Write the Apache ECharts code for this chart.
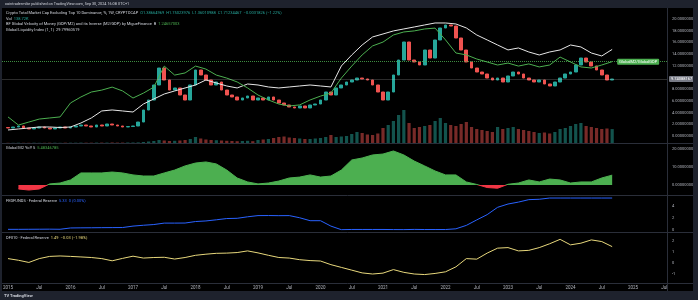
<!DOCTYPE html>
<html><head><meta charset="utf-8">
<script src="https://cdn.jsdelivr.net/npm/echarts@6/dist/echarts.min.js"></script>
<style>html,body{margin:0;padding:0;background:#000;}#c{width:698px;height:300px;}</style>
</head><body><div id="c"></div>
<script>
// ---------- DATA ----------
const months = [
'2015-01','2015-02','2015-03','2015-04','2015-05','2015-06','2015-07','2015-08','2015-09','2015-10','2015-11','2015-12',
'2016-01','2016-02','2016-03','2016-04','2016-05','2016-06','2016-07','2016-08','2016-09','2016-10','2016-11','2016-12',
'2017-01','2017-02','2017-03','2017-04','2017-05','2017-06','2017-07','2017-08','2017-09','2017-10','2017-11','2017-12',
'2018-01','2018-02','2018-03','2018-04','2018-05','2018-06','2018-07','2018-08','2018-09','2018-10','2018-11','2018-12',
'2019-01','2019-02','2019-03','2019-04','2019-05','2019-06','2019-07','2019-08','2019-09','2019-10','2019-11','2019-12',
'2020-01','2020-02','2020-03','2020-04','2020-05','2020-06','2020-07','2020-08','2020-09','2020-10','2020-11','2020-12',
'2021-01','2021-02','2021-03','2021-04','2021-05','2021-06','2021-07','2021-08','2021-09','2021-10','2021-11','2021-12',
'2022-01','2022-02','2022-03','2022-04','2022-05','2022-06','2022-07','2022-08','2022-09','2022-10','2022-11','2022-12',
'2023-01','2023-02','2023-03','2023-04','2023-05','2023-06','2023-07','2023-08','2023-09','2023-10','2023-11','2023-12',
'2024-01','2024-02','2024-03','2024-04','2024-05','2024-06','2024-07','2024-08','2024-09'];
const candleOpen0 = 1.45;
const candleClose = [
1.37,1.54,1.71,1.37,1.20,1.37,1.54,1.37,1.20,1.37,1.54,1.37,
1.54,1.71,1.88,1.71,1.54,1.88,1.71,2.05,1.88,1.71,1.54,1.62,
1.71,2.39,4.44,6.15,8.72,11.62,9.57,7.86,8.21,7.01,6.15,8.72,
11.28,10.43,9.57,8.72,9.23,7.86,7.01,6.67,6.15,6.50,6.84,6.15,
6.50,6.15,6.67,6.15,5.64,5.30,4.96,4.79,5.13,4.79,5.30,5.47,
6.15,7.52,7.01,8.21,8.72,9.23,9.57,9.91,9.75,9.57,8.72,7.52,
6.15,7.52,10.43,12.99,16.07,12.99,12.65,12.14,14.70,13.33,16.41,18.46,
18.97,18.80,16.75,14.70,12.65,11.62,10.94,10.60,9.91,9.57,9.91,9.23,
10.26,10.94,10.60,9.91,9.57,9.23,9.57,8.89,8.55,9.23,9.91,10.60,
10.94,12.14,13.33,12.65,11.97,11.28,10.43,9.57,9.74];
const volumeK = [
2,2,3,2,2,3,2,2,3,3,2,3,
3,3,4,3,3,4,4,4,5,4,4,5,
5,6,10,15,20,30,25,20,22,25,30,40,
60,45,35,30,28,25,22,20,18,20,22,18,
30,35,40,50,60,65,55,50,45,40,40,45,
50,60,80,60,65,70,90,110,100,85,80,95,
150,180,220,280,330,200,150,160,170,180,220,250,
200,180,170,190,210,160,140,130,120,110,160,140,
150,160,140,130,120,110,100,105,95,110,140,150,
170,190,200,170,160,150,140,145,139];

const bimonths = [
'2015-01','2015-03','2015-05','2015-07','2015-09','2015-11',
'2016-01','2016-03','2016-05','2016-07','2016-09','2016-11',
'2017-01','2017-03','2017-05','2017-07','2017-09','2017-11',
'2018-01','2018-03','2018-05','2018-07','2018-09','2018-11',
'2019-01','2019-03','2019-05','2019-07','2019-09','2019-11',
'2020-01','2020-03','2020-05','2020-07','2020-09','2020-11',
'2021-01','2021-03','2021-05','2021-07','2021-09','2021-11',
'2022-01','2022-03','2022-05','2022-07','2022-09','2022-11',
'2023-01','2023-03','2023-05','2023-07','2023-09','2023-11',
'2024-01','2024-03','2024-05','2024-07','2024-09'];
const liquidity = [
16.03,16.20,16.37,16.54,16.54,16.45,
16.54,17.22,18.08,19.28,19.45,19.28,
19.10,20.47,21.33,22.18,22.70,23.21,
23.72,24.58,24.06,23.55,23.21,23.89,
23.72,23.38,23.21,23.38,23.55,23.72,
23.55,23.38,26.97,28.85,30.56,31.93,
32.44,32.96,33.30,33.64,33.98,34.32,
34.32,34.15,33.47,32.27,31.42,30.56,
29.71,30.05,29.36,28.85,29.36,29.71,
30.56,30.22,29.19,28.68,29.80];
const velocity = [
0.989,0.951,0.965,0.979,0.984,0.989,
1.054,1.082,1.105,1.114,1.128,1.110,
1.077,1.100,1.128,1.226,1.184,1.194,
1.226,1.212,1.184,1.170,1.152,1.124,
1.091,1.068,1.049,1.040,1.045,1.068,
1.086,1.100,1.170,1.226,1.278,1.320,
1.338,1.371,1.385,1.390,1.399,1.403,
1.348,1.287,1.278,1.259,1.245,1.231,
1.240,1.226,1.236,1.222,1.231,1.268,
1.245,1.222,1.217,1.231,1.2466];
const m2yoy = [
null,-2.2,-2.8,-2.2,0.6,1.1,
2.8,6.7,6.7,6.7,7.2,6.7,
5.6,5.0,5.0,6.7,8.3,10.6,
12.2,12.8,11.7,8.3,3.9,1.7,
0.6,1.1,2.2,3.9,4.4,5.6,
4.4,5.0,8.3,13.9,15.0,16.7,
17.2,18.9,16.7,13.3,10.6,7.8,
5.6,5.6,1.7,0.3,-1.4,-1.8,
0.4,1.1,2.8,1.7,3.3,2.8,
1.1,1.7,1.7,3.9,5.48];
const fedfunds = [
0.11,0.11,0.12,0.13,0.14,0.12,
0.34,0.36,0.37,0.39,0.40,0.41,
0.65,0.79,0.91,1.15,1.15,1.16,
1.41,1.51,1.70,1.91,1.95,2.20,
2.40,2.41,2.39,2.40,2.04,1.55,
1.55,0.65,0.05,0.09,0.09,0.09,
0.09,0.07,0.06,0.10,0.08,0.08,
0.08,0.20,0.77,1.68,2.56,3.78,
4.33,4.65,5.06,5.12,5.33,5.33,
5.33,5.33,5.33,5.33,5.33];
const dfii10 = [
0.40,0.25,0.05,0.40,0.60,0.64,
0.60,0.55,0.50,0.40,0.20,0.42,
0.62,0.45,0.50,0.52,0.36,0.50,
0.70,0.80,0.88,0.90,0.95,1.10,
0.92,0.70,0.50,0.45,0.30,0.22,
0.18,-0.15,-0.40,-0.65,-0.90,-1.00,
-0.92,-0.60,-0.85,-1.00,-1.05,-0.95,
-0.80,-0.35,0.40,0.35,0.90,1.35,
1.40,1.10,1.15,1.40,1.75,2.15,
1.65,1.80,2.10,1.95,1.49];

// ---------- BUILD ----------
const toYear = s => Number(s.slice(0,4)) + (Number(s.slice(5,7)) - 1) / 12;
const XMIN = 2014.904, XMAX = 2025.56;
const UP = '#26a69a', DN = '#ef5350';
const candleData = candleClose.map((c, i) => {
  const o = i ? candleClose[i-1] : candleOpen0;
  return [toYear(months[i]), o, c, Math.min(o, c), Math.max(o, c)];
});
const volData = volumeK.map((v, i) => ({
  value: [toYear(months[i]), v],
  itemStyle: { color: candleData[i][2] >= candleData[i][1] ? 'rgba(38,166,154,0.5)' : 'rgba(239,83,80,0.5)' }
}));
const pairs = arr => bimonths.map((d, i) => [toYear(d), arr[i]]).filter(p => p[1] !== null);
const lastX = toYear(bimonths[bimonths.length - 1]);

const FONT = 'Roboto, "Noto Sans", sans-serif';
const AX = '#b2b5be';
const grids = [
  { top: 7.3, height: 128.7 },
  { top: 103, height: 40 },
  { top: 149, height: 54 },
  { top: 194, height: 36 },
  { top: 230, height: 55 }
].map(g => Object.assign({ left: 2, right: 30, containLabel: false, outerBoundsMode: 'none', show: false }, g));

const xAxes = grids.map((g, i) => ({
  type: 'value', gridIndex: i, min: XMIN, max: XMAX, splitNumber: 21,
  axisLine: { show: false }, axisTick: { show: false }, splitLine: { show: false },
  axisLabel: i === 4 ? {
    show: true, color: AX, fontSize: 4.5, fontFamily: FONT, margin: 0,
    formatter: v => { const r = Math.round(v * 2) / 2; if (Math.abs(v - r) > 1e-6) return ''; return r % 1 === 0 ? String(r) : 'Jul'; }
  } : { show: false }
}));
const yLab = (fmt, extra) => Object.assign({ show: true, color: AX, fontSize: 4, fontFamily: FONT, margin: 4, formatter: fmt }, extra || {});
const yBase = { type: 'value', position: 'right', axisLine: { show: false }, axisTick: { show: false }, splitLine: { show: false } };
const yAxes = [
  Object.assign({}, yBase, { gridIndex: 0, min: 0, max: 22, interval: 2, axisLabel: yLab(v => v.toFixed(8), { showMaxLabel: false }) }),
  Object.assign({}, yBase, { gridIndex: 0, min: 15, max: 37, show: false }),
  Object.assign({}, yBase, { gridIndex: 0, min: 0.9, max: 1.5, show: false }),
  Object.assign({}, yBase, { gridIndex: 1, min: 0, max: 400, show: false }),
  Object.assign({}, yBase, { gridIndex: 2, min: -10, max: 20, interval: 10, axisLabel: yLab(v => v.toFixed(8), { showMinLabel: false }) }),
  Object.assign({}, yBase, { gridIndex: 3, min: 0, max: 6, interval: 2, axisLabel: yLab(v => String(v), { showMaxLabel: false }) }),
  Object.assign({}, yBase, { gridIndex: 4, min: -2, max: 3, interval: 1, axisLabel: yLab(v => String(v), { showMaxLabel: false, showMinLabel: false }) })
];

const boxLabel = (text, pos, bg, fg) => ({ show: true, position: pos, formatter: text, backgroundColor: bg, color: fg, fontSize: 4, fontFamily: FONT, padding: [1, 2], borderRadius: 1, distance: 1 });

const series = [
  { type: 'candlestick', name: 'OTHERS', xAxisIndex: 0, yAxisIndex: 0, data: candleData, encode: { x: 0, y: [1, 2, 3, 4] },
    barWidth: 3.2, z: 2,
    itemStyle: { color: UP, color0: DN, borderColor: UP, borderColor0: DN, borderWidth: 1 },
    markLine: { silent: true, symbol: 'none', animation: false, data: [
      { yAxis: 9.74, lineStyle: { color: 'rgba(200,200,200,0.22)', type: 'solid', width: 1 }, label: boxLabel('9.74088167', 'end', '#787b86', '#ffffff') },
      { yAxis: 9.74, lineStyle: { opacity: 0 }, label: boxLabel('OTHERS.D', 'insideEnd', '#787b86', '#ffffff') }
    ] } },
  { type: 'line', name: 'Liquidity', xAxisIndex: 0, yAxisIndex: 1, data: pairs(liquidity), showSymbol: false, z: 3,
    lineStyle: { color: '#e6e6e6', width: 1 } },
  { type: 'line', name: 'Velocity', xAxisIndex: 0, yAxisIndex: 2, data: pairs(velocity), showSymbol: false, z: 3,
    lineStyle: { color: '#4caf50', width: 1 },
    markLine: { silent: true, symbol: 'none', animation: false, data: [
      { yAxis: 1.2466, lineStyle: { color: '#4caf50', type: 'dotted', width: 1, opacity: 0.8 }, label: { show: false } }
    ] },
    markPoint: { silent: true, animation: false, symbol: 'circle', symbolSize: 0.01, data: [
      { coord: [lastX, 1.2466], label: Object.assign(boxLabel('GlobalM2/GlobalGDP', 'right', '#4caf50', '#ffffff'), { distance: 5 }) }
    ] } },
  { type: 'bar', name: 'Vol', xAxisIndex: 1, yAxisIndex: 3, data: volData, barWidth: 3.2, z: 1 },
  { type: 'line', name: 'M2', xAxisIndex: 2, yAxisIndex: 4, data: pairs(m2yoy), showSymbol: false,
    lineStyle: { width: 1 }, areaStyle: { opacity: 1 } },
  { type: 'line', name: 'FEDFUNDS', xAxisIndex: 3, yAxisIndex: 5, data: pairs(fedfunds), showSymbol: false,
    lineStyle: { color: '#2962ff', width: 1 },
    markLine: { silent: true, symbol: 'none', animation: false, data: [
      { yAxis: 5.33, lineStyle: { opacity: 0 }, label: boxLabel('FEDFUNDS', 'insideEnd', '#2962ff', '#ffffff') },
      { yAxis: 5.33, lineStyle: { opacity: 0 }, label: { show: true, position: 'end', formatter: '5.33', color: AX, fontSize: 4, fontFamily: FONT, distance: 4 } }
    ] } },
  { type: 'line', name: 'DFII10', xAxisIndex: 4, yAxisIndex: 6, data: pairs(dfii10), showSymbol: false,
    lineStyle: { color: '#e8d87c', width: 1 },
    markLine: { silent: true, symbol: 'none', animation: false, data: [
      { yAxis: 1.49, lineStyle: { opacity: 0 }, label: boxLabel('DFII10', 'insideEnd', '#f0e050', '#000000') },
      { yAxis: 1.49, lineStyle: { opacity: 0 }, label: Object.assign(boxLabel('1.49', 'end', '#f0e050', '#000000'), { distance: 0 }) }
    ] } }
];

// decorations & text
const FR = '#1e222d', SEP = '#2a2e39';
const txt = (x, y, text, rich, size) => ({ type: 'text', x, y, z: 101, silent: true,
  style: { text, rich, fontSize: size || 4, fontFamily: FONT, fill: '#d1d4dc', verticalAlign: 'middle' } });
const R = { w: { fill: '#d1d4dc', fontSize: 4, fontFamily: FONT }, g: { fill: '#4caf50', fontSize: 4, fontFamily: FONT },
            t: { fill: '#26a69a', fontSize: 4, fontFamily: FONT }, b: { fill: '#2962ff', fontSize: 4, fontFamily: FONT },
            y: { fill: '#e8d87c', fontSize: 4, fontFamily: FONT } };
const graphic = [
  { type: 'rect', z: 100, silent: true, shape: { x: 0, y: 0, width: 698, height: 8 }, style: { fill: FR } },
  { type: 'rect', z: 100, silent: true, shape: { x: 0, y: 291, width: 698, height: 9 }, style: { fill: FR } },
  { type: 'rect', z: 100, silent: true, shape: { x: 0, y: 0, width: 2, height: 300 }, style: { fill: FR } },
  { type: 'rect', z: 100, silent: true, shape: { x: 693, y: 0, width: 5, height: 300 }, style: { fill: FR } },
  ...[143.5, 195.5, 232.5, 283.5].map(y => ({ type: 'line', z: 99, silent: true, shape: { x1: 2, y1: y, x2: 693, y2: y }, style: { stroke: SEP, lineWidth: 1 } })),
  { type: 'line', z: 99, silent: true, shape: { x1: 667.5, y1: 8, x2: 667.5, y2: 291 }, style: { stroke: SEP, lineWidth: 1 } },
  txt(5, 4, 'cointradermike published on TradingView.com, Sep 30, 2024 16:08 UTC+1', null, 3.8),
  txt(6, 13, '{w|Crypto Total Market Cap Excluding Top 10 Dominance, %, 1W, CRYPTOCAP}  {t|O1.38664969  H1.75023976  L1.36010988  C1.71234467  −0.0031826 (−1.22%)}', R),
  txt(6, 18.5, '{w|Vol}  {t|138.72K}', R),
  txt(6, 24, '{w|BF Global Velocity of Money (GDP/M2) and its Inverse (M2/GDP) by MigueFinance  B}  {g|1.24657003}', R),
  txt(6, 29.5, '{w|Global Liquidity Index (1, 1)}  {w|29.79960519}', R),
  txt(6, 148, '{w|Global M2 YoY 5}  {g|5.48346785}', R),
  txt(6, 201, '{w|FEDFUNDS · Federal Reserve}  {b|5.33  0 (0.00%)}', R),
  txt(6, 237.5, '{w|DFII10 · Federal Reserve}  {y|1.49  −0.03 (−1.98%)}', R),
  txt(4, 295.5, '{w|TV TradingView}', { w: { fill: '#d1d4dc', fontSize: 4, fontWeight: 'bold', fontFamily: FONT } })
];

const chart = echarts.init(document.getElementById('c'), null, { renderer: 'canvas' });
chart.setOption({
  backgroundColor: '#000000',
  animation: false,
  grid: grids,
  xAxis: xAxes,
  yAxis: yAxes,
  visualMap: [{ type: 'piecewise', show: false, seriesIndex: 4, dimension: 1,
    pieces: [{ min: -100, max: 0, color: '#f23645' }, { gt: 0, lte: 100, color: '#4caf50' }] }],
  series,
  graphic
});
</script></body></html>
